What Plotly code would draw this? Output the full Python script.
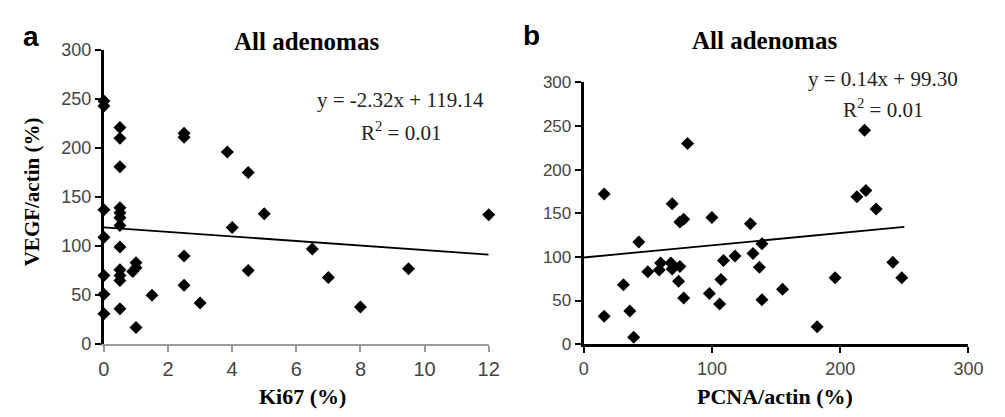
import plotly.graph_objects as go

# ---- data -----------------------------------------------------------
# Panel a: Ki67 (%) vs VEGF/actin (%)
ki67_x = [0, 0, 0, 0, 0, 0, 0,
          0.5, 0.5, 0.5, 0.5, 0.5, 0.5, 0.5, 0.5, 0.5, 0.5, 0.5, 0.5,
          1.0, 1.0, 0.9, 1.0,
          1.5,
          2.5, 2.5, 2.5, 2.5,
          3.0, 3.85, 4.0, 4.5, 4.5, 5.0, 6.5, 7.0, 8.0, 9.5, 12.0]
vegf_a = [248, 243, 137, 109, 70, 51, 31,
          221, 210, 181, 139, 134, 129, 121, 99, 76, 70, 65, 36,
          83, 78, 74, 17,
          50,
          215, 211, 90, 60,
          42, 196, 119, 175, 75, 133, 97, 68, 38, 77, 132]

# Panel b: PCNA/actin (%) vs VEGF/actin (%)
pcna_x = [16, 81, 69, 75, 78, 100, 130, 139, 132, 43, 118, 109, 137,
          50, 59, 60, 68, 69, 75, 74, 78, 31, 16, 36, 39, 98, 107, 106,
          139, 155, 219, 213, 220, 228, 241, 248, 196, 182]
vegf_b = [172, 230, 161, 140, 143, 145, 138, 115, 104, 117, 101, 96, 88,
          83, 85, 93, 93, 86, 89, 72, 53, 68, 32, 38, 8, 58, 74, 46,
          51, 63, 245, 169, 176, 155, 94, 76, 76, 20]

# Linear fits as printed on each panel
slope_a, intercept_a, r2_a = -2.32, 119.14, 0.01
slope_b, intercept_b, r2_b = 0.14, 99.30, 0.01
fit_span_a = [0, 12]
fit_span_b = [0, 250]

xticks_a = [0, 2, 4, 6, 8, 10, 12]
xticks_b = [0, 100, 200, 300]
yticks = [0, 50, 100, 150, 200, 250, 300]

# ---- figure ---------------------------------------------------------
W, H = 1005, 417
SERIF = "Liberation Serif, Times New Roman, serif"
SANS = "Liberation Sans, Arial, sans-serif"
TICK_COLOR = "#444444"

fig = go.Figure()

marker = dict(symbol="diamond", size=10, color="black")

fig.add_trace(go.Scatter(x=ki67_x, y=vegf_a, mode="markers", marker=marker,
                         xaxis="x", yaxis="y", cliponaxis=False, showlegend=False))
fig.add_trace(go.Scatter(x=fit_span_a, y=[slope_a * v + intercept_a for v in fit_span_a],
                         mode="lines", line=dict(color="black", width=1.8),
                         xaxis="x", yaxis="y", showlegend=False))

fig.add_trace(go.Scatter(x=pcna_x, y=vegf_b, mode="markers", marker=marker,
                         xaxis="x2", yaxis="y2", cliponaxis=False, showlegend=False))
fig.add_trace(go.Scatter(x=fit_span_b, y=[slope_b * v + intercept_b for v in fit_span_b],
                         mode="lines", line=dict(color="black", width=1.8),
                         xaxis="x2", yaxis="y2", showlegend=False))


def px_x(p):
    return p / W


def px_y(p):
    return 1 - p / H


common = dict(showgrid=False, zeroline=False, showline=True, ticks="outside",
              ticklen=6, tickwidth=2, fixedrange=True)

fig.update_layout(
    width=W, height=H,
    margin=dict(l=0, r=0, t=0, b=0),
    paper_bgcolor="white", plot_bgcolor="white",
    xaxis=dict(domain=[px_x(100), px_x(493)], range=[0, 12], tickvals=xticks_a,
               linecolor="#9a9a9a", linewidth=2, tickcolor="#9a9a9a",
               tickfont=dict(family=SANS, size=20, color=TICK_COLOR),
               anchor="y", **common),
    yaxis=dict(domain=[px_y(351), px_y(42)], range=[0, 300], tickvals=yticks,
               linecolor="black", linewidth=3, tickcolor="black",
               tickfont=dict(family=SANS, size=18, color=TICK_COLOR),
               anchor="x", **common),
    xaxis2=dict(domain=[px_x(590), px_x(983)], range=[0, 300], tickvals=xticks_b,
                linecolor="black", linewidth=3, tickcolor="black",
                tickfont=dict(family=SANS, size=18, color=TICK_COLOR),
                anchor="y2", **common),
    yaxis2=dict(domain=[px_y(351), px_y(76)], range=[0, 300], tickvals=yticks,
                linecolor="black", linewidth=3, tickcolor="black",
                tickfont=dict(family=SANS, size=17, color=TICK_COLOR),
                anchor="x2", **common),
)


def label(text, x, y, size, family, bold=False, color="black", angle=0):
    fig.add_annotation(
        text=f"<b>{text}</b>" if bold else text,
        x=px_x(x), y=px_y(y), xref="paper", yref="paper",
        xanchor="center", yanchor="middle", showarrow=False, textangle=angle,
        font=dict(family=family, size=size, color=color),
    )


# panel letters
label("a", 26, 28, 28, SANS, bold=True)
label("b", 537, 27, 28, SANS, bold=True)

# panel titles
label("All adenomas", 307, 33, 25, SERIF, bold=True)
label("All adenomas", 775, 32, 25, SERIF, bold=True)

# axis titles
label("Ki67 (%)", 303, 406, 22, SERIF, bold=True)
label("PCNA/actin (%)", 785, 406, 22, SERIF, bold=True)
label("VEGF/actin (%)", 26, 191, 21, SERIF, bold=True, angle=-90)

# regression equations
label(f"y = {slope_a:.2f}x + {intercept_a:.2f}", 403, 95, 21, SERIF, color="#222222")
label(f"R<sup>2</sup> = {r2_a:.2f}", 403, 128, 21, SERIF, color="#222222")
label(f"y = {slope_b:.2f}x + {intercept_b:.2f}", 896, 72, 21, SERIF, color="#222222")
label(f"R<sup>2</sup> = {r2_b:.2f}", 896, 103, 21, SERIF, color="#222222")

fig.write_html("out.html")
